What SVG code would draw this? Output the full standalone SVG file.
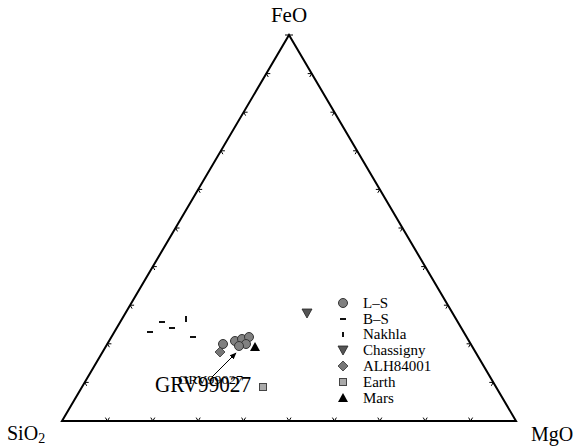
<svg xmlns="http://www.w3.org/2000/svg" width="576" height="446" viewBox="0 0 576 446">
<style>
.ax{fill:none;stroke:#000;stroke-width:2;stroke-linejoin:miter}
.tk{fill:none;stroke:#000;stroke-width:1}
.lbl{font-family:"Liberation Serif","Times New Roman",serif;fill:#000}
.lg{font-family:"Liberation Serif","Times New Roman",serif;font-size:15px;fill:#000}
.ls{fill:#808080;stroke:#333;stroke-width:1}
.bs{stroke:#111;stroke-width:2}
.ch{fill:#555;stroke:#222;stroke-width:0.8}
.al{fill:#777;stroke:#333;stroke-width:0.8}
.ea{fill:#aaa;stroke:#444;stroke-width:1}
.ma{fill:#000}
</style>
<defs>
<marker id="ah" viewBox="0 0 10 10" refX="9" refY="5" markerWidth="7" markerHeight="7" orient="auto" markerUnits="userSpaceOnUse">
<path d="M0,1 L10,5 L0,9 z" fill="#000"/>
</marker>
</defs>
<rect width="576" height="446" fill="#fff"/>
<g id="axes">
<path class="ax" d="M62,421 L516,421 L289,35 Z"/>
<line class="tk" x1="285" y1="35" x2="293" y2="35"/>
</g>
<g id="ticks" class="tk">
<path d="M105.4,417.6 L107.4,421 L109.4,417.6 M150.8,417.6 L152.8,421 L154.8,417.6 M196.2,417.6 L198.2,421 L200.2,417.6 M241.6,417.6 L243.6,421 L245.6,417.6 M287,417.6 L289,421 L291,417.6 M332.4,417.6 L334.4,421 L336.4,417.6 M377.8,417.6 L379.8,421 L381.8,417.6 M423.2,417.6 L425.2,421 L427.2,417.6 M468.6,417.6 L470.6,421 L472.6,417.6"/>
<path d="M88.7,382.4 L84.7,382.4 L86.7,385.8 M111.4,343.8 L107.4,343.8 L109.4,347.2 M134.1,305.2 L130.1,305.2 L132.1,308.6 M156.8,266.6 L152.8,266.6 L154.8,270 M179.5,228 L175.5,228 L177.5,231.4 M202.2,189.4 L198.2,189.4 L200.2,192.8 M224.9,150.8 L220.9,150.8 L222.9,154.2 M247.6,112.2 L243.6,112.2 L245.6,115.6 M270.3,73.6 L266.3,73.6 L268.3,77"/>
<path d="M489.3,382.4 L493.3,382.4 L491.3,385.8 M466.6,343.8 L470.6,343.8 L468.6,347.2 M443.9,305.2 L447.9,305.2 L445.9,308.6 M421.2,266.6 L425.2,266.6 L423.2,270 M398.5,228 L402.5,228 L400.5,231.4 M375.8,189.4 L379.8,189.4 L377.8,192.8 M353.1,150.8 L357.1,150.8 L355.1,154.2 M330.4,112.2 L334.4,112.2 L332.4,115.6 M307.7,73.6 L311.7,73.6 L309.7,77"/>
</g>
<g id="axis-labels">
<text class="lbl" x="289" y="22" font-size="21" text-anchor="middle">FeO</text>
<text class="lbl" x="7" y="440" font-size="20">SiO<tspan font-size="14" dy="3">2</tspan></text>
<text class="lbl" x="531" y="441" font-size="20">MgO</text>
</g>
<g id="data">
<g id="bs-points">
<line class="bs" x1="147" y1="332" x2="153" y2="332"/>
<line class="bs" x1="159" y1="322" x2="165" y2="322"/>
<line class="bs" x1="169" y1="328" x2="175" y2="328"/>
<line class="bs" x1="190" y1="337" x2="196" y2="337"/>
</g>
<g id="nakhla-points">
<line class="bs" x1="186" y1="316" x2="186" y2="322"/>
</g>
<g id="chassigny-points">
<path class="ch" d="M302,309 L312,309 L307,318 Z"/>
</g>
<g id="ls-points">
<circle class="ls" cx="223" cy="344" r="4.5"/>
<circle class="ls" cx="235" cy="341" r="4.5"/>
<circle class="ls" cx="242" cy="339" r="4.5"/>
<circle class="ls" cx="249" cy="337" r="4.5"/>
<circle class="ls" cx="246" cy="344" r="4.5"/>
<circle class="ls" cx="239" cy="346" r="4.5"/>
</g>
<g id="alh-points">
<path class="al" d="M220,347 L225,352 L220,357 L215,352 Z"/>
</g>
<g id="mars-points">
<path class="ma" d="M255,342 L260,351 L250,351 Z"/>
</g>
<g id="earth-points">
<rect class="ea" x="259.5" y="383.5" width="7" height="7"/>
</g>
</g>
<g id="connectors">
<line x1="212" y1="377" x2="236" y2="353" stroke="#000" stroke-width="1" marker-end="url(#ah)"/>
</g>
<g id="grv-label">
<text class="lbl" x="178" y="384" font-size="13" textLength="65" lengthAdjust="spacingAndGlyphs">GRV99027</text>
<text class="lbl" x="155" y="392" font-size="23" textLength="96" lengthAdjust="spacingAndGlyphs">GRV99027</text>
</g>
<g id="legend">
<circle class="ls" cx="343" cy="303" r="4.5"/>
<text class="lg" x="363" y="308">L–S</text>
<line class="bs" x1="340" y1="319" x2="346" y2="319"/>
<text class="lg" x="363" y="324">B–S</text>
<line class="bs" x1="343" y1="332" x2="343" y2="337"/>
<text class="lg" x="363" y="339">Nakhla</text>
<path class="ch" d="M338,346 L348,346 L343,355 Z"/>
<text class="lg" x="363" y="355">Chassigny</text>
<path class="al" d="M343,361 L348,366 L343,371 L338,366 Z"/>
<text class="lg" x="363" y="371">ALH84001</text>
<rect class="ea" x="339.5" y="378.5" width="7" height="7"/>
<text class="lg" x="363" y="387">Earth</text>
<path class="ma" d="M343,393 L348,402 L338,402 Z"/>
<text class="lg" x="363" y="403">Mars</text>
</g>
</svg>
